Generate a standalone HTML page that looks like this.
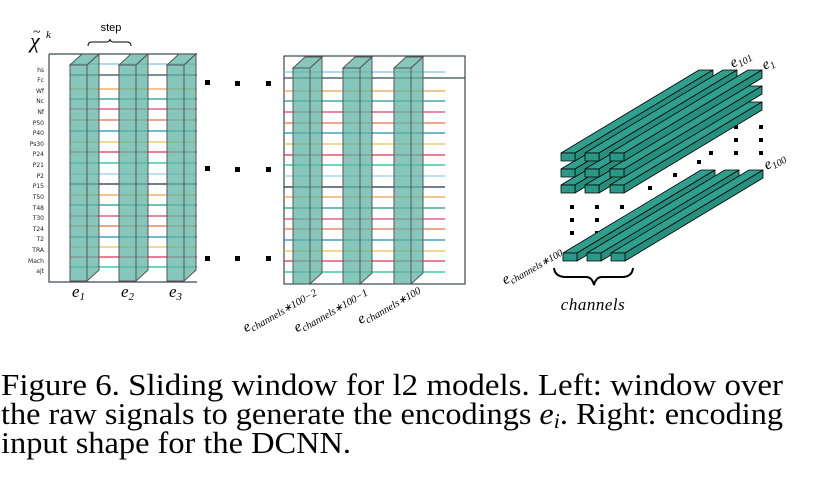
<!DOCTYPE html>
<html><head><meta charset="utf-8"><style>
html,body{margin:0;padding:0;background:#fff;}
svg{display:block}
</style></head><body>
<svg width="828" height="489" viewBox="0 0 828 489" xmlns="http://www.w3.org/2000/svg">
<defs>
<g id="win">
<rect x="0" y="0" width="17" height="216" fill="#5fb3a3" fill-opacity="0.75" stroke="#555" stroke-width="1"/>
<path d="M0,0 L17,0 L29,-11 L12,-11 Z" fill="#5fb3a3" fill-opacity="0.75" stroke="#555" stroke-width="1"/>
<path d="M17,0 L29,-11 L29,205 L17,216 Z" fill="#5fb3a3" fill-opacity="0.75" stroke="#555" stroke-width="1"/>
</g>
<g id="bar" stroke="#000" stroke-width="0.8" stroke-linejoin="round">
<path d="M0,0 L14,0 L152,-83 L138,-83 Z" fill="#30a08e"/>
<path d="M14,0 L14,8 L152,-75 L152,-83 Z" fill="#26907f"/>
<rect x="0" y="0" width="14" height="8" fill="#2a9987"/>
</g>
</defs>

<!-- LEFT PANEL -->
<text x="30" y="48" font-family="Liberation Serif" font-style="italic" font-size="22">χ</text>
<text x="33" y="36" font-family="Liberation Serif" font-size="14">~</text>
<text x="46" y="38" font-family="Liberation Serif" font-style="italic" font-size="11">k</text>
<text x="111" y="31" font-family="Liberation Sans" font-size="11" text-anchor="middle">step</text>
<path d="M88,46 Q88,42 92,42 L106,42 Q110,42 110,39 Q110,42 114,42 L127,42 Q131,42 131,46" fill="none" stroke="#000" stroke-width="1"/>
<path d="M49,54 L49,282 L197,282 M49,54 L197,54" fill="none" stroke="#3a4a50" stroke-width="1.2"/>
<g stroke-width="1.3" fill="none">
<line x1="70" x2="197" y1="64" y2="64" stroke="#7ec8e3"/>
<line x1="70" x2="197" y1="75" y2="75" stroke="#2f4f4f"/>
<line x1="70" x2="197" y1="89" y2="89" stroke="#f0a050"/>
<line x1="70" x2="197" y1="99" y2="99" stroke="#1a9a8a"/>
<line x1="70" x2="197" y1="109" y2="109" stroke="#e0406a"/>
<line x1="70" x2="197" y1="120" y2="120" stroke="#e8704a"/>
<line x1="70" x2="197" y1="131" y2="131" stroke="#1a90b0"/>
<line x1="70" x2="197" y1="142" y2="142" stroke="#e8c050"/>
<line x1="70" x2="197" y1="152" y2="152" stroke="#e03050"/>
<line x1="70" x2="197" y1="163" y2="163" stroke="#10c090"/>
<line x1="70" x2="197" y1="174" y2="174" stroke="#90d0e8"/>
<line x1="70" x2="197" y1="184" y2="184" stroke="#203040"/>
<line x1="70" x2="197" y1="195" y2="195" stroke="#f0a050"/>
<line x1="70" x2="197" y1="205" y2="205" stroke="#1a9a8a"/>
<line x1="70" x2="197" y1="216" y2="216" stroke="#e0406a"/>
<line x1="70" x2="197" y1="226" y2="226" stroke="#e8704a"/>
<line x1="70" x2="197" y1="237" y2="237" stroke="#1a90b0"/>
<line x1="70" x2="197" y1="247" y2="247" stroke="#e8c050"/>
<line x1="70" x2="197" y1="257" y2="257" stroke="#e03050"/>
<line x1="70" x2="197" y1="267" y2="267" stroke="#10c090"/>
</g>
<g font-family="DejaVu Sans" font-size="6" text-anchor="end" fill="#222">
<text x="44" y="72">hs</text><text x="44" y="82">Fc</text><text x="44" y="93">Wf</text><text x="44" y="103">Nc</text>
<text x="44" y="114">Nf</text><text x="44" y="125">P50</text><text x="44" y="135">P40</text><text x="44" y="146">Ps30</text>
<text x="44" y="156">P24</text><text x="44" y="167">P21</text><text x="44" y="178">P2</text><text x="44" y="188">P15</text>
<text x="44" y="199">T50</text><text x="44" y="210">T48</text><text x="44" y="220">T30</text><text x="44" y="231">T24</text>
<text x="44" y="241">T2</text><text x="44" y="252">TRA</text><text x="44" y="263">Mach</text><text x="44" y="273">ajt</text>
</g>
<use href="#win" x="70" y="65"/>
<use href="#win" x="119" y="65"/>
<use href="#win" x="167" y="65"/>
<g font-family="Liberation Serif" font-style="italic" font-size="17">
<text x="72" y="297">e<tspan font-size="11" dy="3">1</tspan></text>
<text x="121" y="297">e<tspan font-size="11" dy="3">2</tspan></text>
<text x="169" y="297">e<tspan font-size="11" dy="3">3</tspan></text>
</g>

<!-- dots -->
<g fill="#000">
<rect x="205" y="80" width="5" height="5"/><rect x="235" y="81" width="5" height="5"/><rect x="266" y="81" width="5" height="5"/>
<rect x="205" y="166" width="5" height="5"/><rect x="235" y="167" width="5" height="5"/><rect x="266" y="167" width="5" height="5"/>
<rect x="205" y="256" width="5" height="5"/><rect x="235" y="256" width="5" height="5"/><rect x="266" y="256" width="5" height="5"/>
</g>

<!-- MIDDLE PANEL -->
<rect x="284" y="56" width="181" height="228" fill="none" stroke="#3a4a50" stroke-width="1.2"/>
<g stroke-width="1.3" fill="none">
<line x1="284" x2="445" y1="72" y2="72" stroke="#7ec8e3"/>
<line x1="284" x2="465" y1="78" y2="78" stroke="#2f4f4f"/>
<line x1="284" x2="445" y1="91" y2="91" stroke="#f0a050"/>
<line x1="284" x2="445" y1="101" y2="101" stroke="#1a9a8a"/>
<line x1="284" x2="445" y1="112" y2="112" stroke="#e0406a"/>
<line x1="284" x2="445" y1="123" y2="123" stroke="#e8704a"/>
<line x1="284" x2="445" y1="133" y2="133" stroke="#1a90b0"/>
<line x1="284" x2="445" y1="144" y2="144" stroke="#e8c050"/>
<line x1="284" x2="445" y1="155" y2="155" stroke="#e03050"/>
<line x1="284" x2="445" y1="165" y2="165" stroke="#10c090"/>
<line x1="284" x2="445" y1="176" y2="176" stroke="#90d0e8"/>
<line x1="284" x2="445" y1="187" y2="187" stroke="#203040"/>
<line x1="284" x2="445" y1="197" y2="197" stroke="#f0a050"/>
<line x1="284" x2="445" y1="208" y2="208" stroke="#1a9a8a"/>
<line x1="284" x2="445" y1="219" y2="219" stroke="#e0406a"/>
<line x1="284" x2="445" y1="229" y2="229" stroke="#e8704a"/>
<line x1="284" x2="445" y1="240" y2="240" stroke="#1a90b0"/>
<line x1="284" x2="445" y1="251" y2="251" stroke="#e8c050"/>
<line x1="284" x2="445" y1="261" y2="261" stroke="#e03050"/>
<line x1="284" x2="445" y1="272" y2="272" stroke="#10c090"/>
</g>
<use href="#win" x="293" y="68"/>
<use href="#win" x="343" y="68"/>
<use href="#win" x="394" y="68"/>
<g font-family="Liberation Serif" font-style="italic" font-size="15" text-anchor="end">
<text transform="translate(316,292) rotate(-30)">e<tspan font-size="10.5" dy="3">channels∗100−2</tspan></text>
<text transform="translate(367,292) rotate(-30)">e<tspan font-size="10.5" dy="3">channels∗100−1</tspan></text>
<text transform="translate(420,290) rotate(-30)">e<tspan font-size="10.5" dy="3">channels∗100</tspan></text>
</g>

<!-- RIGHT PANEL -->
<g fill="#000">
<rect x="734" y="125" width="4" height="4"/><rect x="759" y="125" width="4" height="4"/>
<rect x="734" y="138" width="4" height="4"/><rect x="759" y="138" width="4" height="4"/>
<rect x="709" y="151" width="4" height="4"/><rect x="734" y="151" width="4" height="4"/><rect x="759" y="151" width="4" height="4"/>
<rect x="697" y="160" width="4" height="4"/>
<rect x="673" y="173" width="4" height="4"/><rect x="697" y="173" width="4" height="4"/>
<rect x="648" y="186" width="4" height="4"/><rect x="673" y="186" width="4" height="4"/><rect x="697" y="186" width="4" height="4"/>
<rect x="570" y="205" width="4" height="4"/><rect x="595" y="205" width="4" height="4"/><rect x="620" y="205" width="4" height="4"/>
<rect x="570" y="218" width="4" height="4"/><rect x="595" y="218" width="4" height="4"/><rect x="620" y="218" width="4" height="4"/>
<rect x="570" y="231" width="4" height="4"/><rect x="595" y="231" width="4" height="4"/><rect x="620" y="231" width="4" height="4"/>
</g>
<use href="#bar" x="563" y="253"/><use href="#bar" x="587" y="253"/><use href="#bar" x="611" y="253"/>
<use href="#bar" x="561" y="185"/><use href="#bar" x="585" y="185"/><use href="#bar" x="610" y="185"/>
<use href="#bar" x="561" y="169"/><use href="#bar" x="585" y="169"/><use href="#bar" x="610" y="169"/>
<use href="#bar" x="561" y="153"/><use href="#bar" x="585" y="153"/><use href="#bar" x="610" y="153"/>

<g font-family="Liberation Serif" font-style="italic" font-size="15">
<text transform="translate(733,68) rotate(-30)">e<tspan font-size="10" dy="3">101</tspan></text>
<text transform="translate(765,70) rotate(-30)">e<tspan font-size="10" dy="3">1</tspan></text>
<text transform="translate(767,170) rotate(-30)">e<tspan font-size="10" dy="3">100</tspan></text>
<text transform="translate(562,252) rotate(-30)" text-anchor="end">e<tspan font-size="10" dy="3">channels∗100</tspan></text>
<text x="593" y="310" font-size="17" text-anchor="middle" letter-spacing="0.5">channels</text>
</g>
<path d="M554,268 Q555,277 566,277 L586,277 Q592,277 594,285 Q596,277 602,277 L622,277 Q632,277 633,268" fill="none" stroke="#000" stroke-width="2"/>

<!-- CAPTION -->
<g font-family="Liberation Serif" font-size="31" fill="#000">
<text x="1" y="395" textLength="782" lengthAdjust="spacingAndGlyphs">Figure 6. Sliding window for l2 models. Left: window over</text>
<text x="1" y="424" textLength="782" lengthAdjust="spacingAndGlyphs">the raw signals to generate the encodings <tspan font-style="italic">e</tspan><tspan font-style="italic" font-size="21" dy="4">i</tspan><tspan dy="-4">. Right: encoding</tspan></text>
<text x="1" y="453" textLength="350" lengthAdjust="spacingAndGlyphs">input shape for the DCNN.</text>
</g>
</svg>
</body></html>
